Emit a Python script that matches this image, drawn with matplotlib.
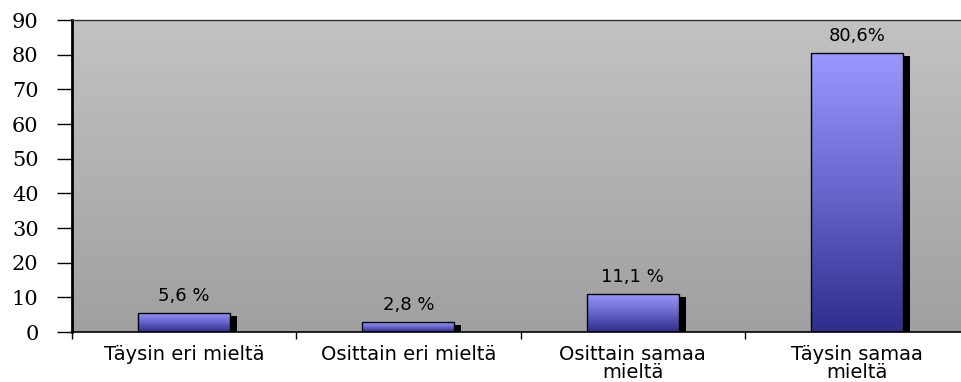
import numpy as np
import matplotlib
matplotlib.use("Agg")
import matplotlib.pyplot as plt
from matplotlib.colors import LinearSegmentedColormap

categories = ["Täysin eri mieltä", "Osittain eri mieltä", "Osittain samaa\nmieltä", "Täysin samaa\nmieltä"]
values = [5.6, 2.8, 11.1, 80.6]
value_labels = ["5,6 %", "2,8 %", "11,1 %", "80,6%"]
yticks = [0, 10, 20, 30, 40, 50, 60, 70, 80, 90]

W, H = 961, 382
fig = plt.figure(figsize=(W / 100, H / 100), dpi=100)
left, right, top, bottom = 72, 969, 20, 332
ax = fig.add_axes([left / W, 1 - bottom / H, (right - left) / W, (bottom - top) / H])

x = np.arange(len(categories))
ax.set_xlim(-0.5, len(categories) - 0.5)
ax.set_ylim(0, 90)

# background gradient
bg = LinearSegmentedColormap.from_list("bg", ["#a0a0a0", "#c2c2c2"])
grad = np.linspace(0, 1, 256).reshape(-1, 1)
ax.imshow(grad, cmap=bg, origin="lower", extent=[0, 1, 0, 1], transform=ax.transAxes,
          aspect="auto", zorder=0)

bw = 0.41
# shadows
px_x = 1.0 / (right - left) * len(categories)
px_y = 90.0 / (bottom - top)
ax.bar(x + 7 * px_x, np.array(values) - 3 * px_y, width=bw, color="black", zorder=1)

bars = ax.bar(x, values, width=bw, facecolor="none", edgecolor="black", linewidth=1.0, zorder=3)
barcm = LinearSegmentedColormap.from_list("bar", ["#2e2e8c", "#6666cc", "#9999ff"])
for b, v in zip(bars, values):
    x0 = b.get_x()
    im = ax.imshow(grad, cmap=barcm, origin="lower", extent=[x0, x0 + b.get_width(), 0, v],
                   aspect="auto", zorder=2)
    im.set_clip_path(b)

for xi, v, lab in zip(x, values, value_labels):
    ax.text(xi, v + 12 * px_y, lab, ha="center", va="baseline", fontsize=13,
            family="DejaVu Sans", color="black", zorder=4)

ax.set_yticks(yticks)
ax.set_yticklabels([str(t) for t in yticks], family="DejaVu Serif", fontsize=15)
ax.set_xticks(x)
ax.set_xticklabels(categories, family="DejaVu Sans", fontsize=14, linespacing=0.95)
ax.set_xticks(np.arange(-0.5, len(categories)), minor=True)
ax.tick_params(axis="x", which="major", length=0, pad=9)
ax.tick_params(axis="x", which="minor", length=5, direction="out", width=1)
ax.tick_params(axis="y", length=11, width=1, direction="out", pad=13)

ax.spines["left"].set_linewidth(2)
ax.spines["bottom"].set_linewidth(1.2)
ax.spines["top"].set_linewidth(1)
ax.spines["top"].set_color("#333333")
ax.spines["right"].set_visible(False)

fig.savefig("out.png", dpi=100)
